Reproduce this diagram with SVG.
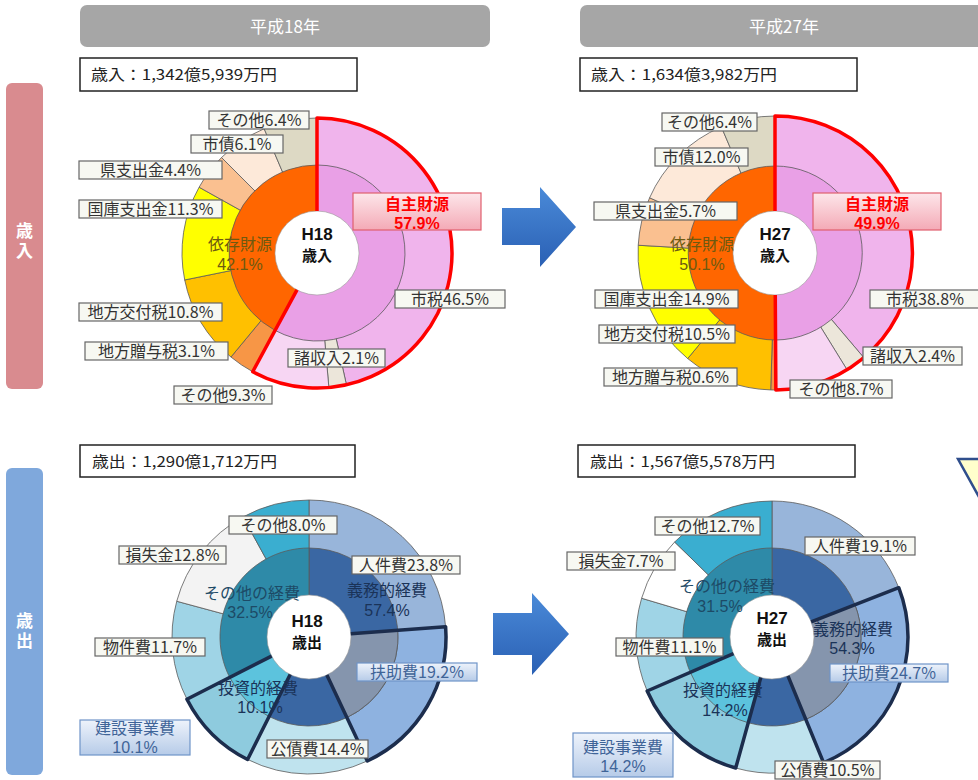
<svg xmlns="http://www.w3.org/2000/svg" width="978" height="780" viewBox="0 0 978 780">
<defs>
<style>
.f{font-family:"Noto Sans CJK JP","Noto Sans",sans-serif}
.num{font-family:"Liberation Sans",Arial,sans-serif}
.lb rect{fill:#f7f8f2;stroke:#666;stroke-width:1.2}
.lb text{font-family:"Noto Sans CJK JP","Noto Sans",sans-serif;font-size:16px;fill:#333;text-anchor:middle}
.bl rect{fill:url(#gBlue);stroke:#6f94c8;stroke-width:1.2}
.bl text{font-family:"Noto Sans CJK JP","Noto Sans",sans-serif;font-size:16px;fill:#3f6498;text-anchor:middle}
.sec path{stroke:#5a5a5a;stroke-width:0.8}
.ctr{font-family:"Noto Sans CJK JP","Noto Sans",sans-serif;font-size:15px;font-weight:bold;fill:#111;text-anchor:middle}
.ctr .num{font-size:17px}
.in{font-family:"Noto Sans CJK JP","Noto Sans",sans-serif;font-size:16px;text-anchor:middle}
.hd rect{fill:#a6a6a6}
.hd text{font-family:"Noto Sans CJK JP","Noto Sans",sans-serif;font-size:17px;fill:#fff;text-anchor:middle}
.sm rect{fill:#fff;stroke:#222;stroke-width:1.5}
.sm text{font-family:"Noto Sans CJK JP","Noto Sans",sans-serif;font-size:15px;fill:#222}
.sec .red{fill:none;stroke:#ff0000;stroke-width:3.5;stroke-linejoin:round}
.sec .nv{fill:none;stroke:#1c2d4d;stroke-width:3.5;stroke-linejoin:round}
.wc{fill:#fff;stroke:#999;stroke-width:0.6}
.vt{font-family:"Noto Sans CJK JP","Noto Sans",sans-serif;font-size:17px;font-weight:bold;fill:#fff;writing-mode:vertical-rl;text-anchor:middle;letter-spacing:3px}
</style>
<linearGradient id="gBlue" x1="0" y1="0" x2="0" y2="1"><stop offset="0" stop-color="#eef3fb"/><stop offset="1" stop-color="#b6cbe8"/></linearGradient>
<linearGradient id="gPink" x1="0" y1="0" x2="0" y2="1"><stop offset="0" stop-color="#fde6ea"/><stop offset="1" stop-color="#f4aab6"/></linearGradient>
<linearGradient id="gArr" x1="0" y1="0" x2="0" y2="1"><stop offset="0" stop-color="#4a8ad8"/><stop offset="1" stop-color="#2a60b4"/></linearGradient>
</defs>
<rect width="978" height="780" fill="#fff"/>

<g id="side-revenue"><rect x="6" y="83" width="37" height="306" rx="6" fill="#d98b8f"/><text class="vt" x="24.5" y="242">歳入</text></g>
<g id="side-expenditure"><rect x="6" y="468" width="37" height="307" rx="6" fill="#7fa8dc"/><text class="vt" x="24.5" y="632">歳出</text></g>

<g id="header-h18" class="hd"><rect x="80" y="5" width="410" height="42" rx="7"/><text x="285" y="33">平成18年</text></g>
<g id="header-h27" class="hd"><rect x="580" y="5" width="410" height="42" rx="7"/><text x="784" y="33">平成27年</text></g>

<g id="total-rev-h18" class="sm"><rect x="80" y="58" width="277" height="33"/><text x="91" y="80" textLength="186" lengthAdjust="spacingAndGlyphs">歳入：1,342億5,939万円</text></g>
<g id="total-rev-h27" class="sm"><rect x="580" y="58" width="277" height="33"/><text x="591" y="80" textLength="186" lengthAdjust="spacingAndGlyphs">歳入：1,634億3,982万円</text></g>
<g id="total-exp-h18" class="sm"><rect x="80" y="445" width="275" height="32"/><text x="92" y="467" textLength="185" lengthAdjust="spacingAndGlyphs">歳出：1,290億1,712万円</text></g>
<g id="total-exp-h27" class="sm"><rect x="578" y="445" width="277" height="32"/><text x="590" y="467" textLength="185" lengthAdjust="spacingAndGlyphs">歳出：1,567億5,578万円</text></g>

<!-- H18 revenue chart -->
<g id="chart-rev-h18" class="sec">
<path d="M317,253 L317,118 A135,135 0 0 1 346.44,384.75 Z" fill="#f0b4ec"/>
<path d="M317,253 L346.44,384.75 A135,135 0 0 1 328.86,387.48 Z" fill="#ece6da"/>
<path d="M317,253 L328.86,387.48 A135,135 0 0 1 252.70,371.71 Z" fill="#f7d6f3"/>
<path d="M317,253 L252.70,371.71 A135,135 0 0 1 230.95,357.02 Z" fill="#f79646"/>
<path d="M317,253 L230.95,357.02 A135,135 0 0 1 184.71,279.96 Z" fill="#ffc000"/>
<path d="M317,253 L184.71,279.96 A135,135 0 0 1 199.10,187.23 Z" fill="#ffff00"/>
<path d="M317,253 L199.10,187.23 A135,135 0 0 1 221.54,157.54 Z" fill="#fac090"/>
<path d="M317,253 L221.54,157.54 A135,135 0 0 1 264.17,128.76 Z" fill="#fde9d9"/>
<path d="M317,253 L264.17,128.76 A135,135 0 0 1 317,118 Z" fill="#ddd9c4"/>
<path d="M317,253 L317,165 A88,88 0 1 1 275.09,330.38 Z" fill="#e9a0e6"/>
<path d="M317,253 L275.09,330.38 A88,88 0 0 1 317,165 Z" fill="#ff6600"/>
<circle class="wc" cx="317" cy="253" r="42"/>
<path class="red" d="M317,211 L317,118 A135,135 0 1 1 252.70,371.71 L297.0,289.93"/>
<text class="in" x="240" y="250" fill="#6e5a10">依存財源<tspan class="num" x="240" dy="19.5">42.1%</tspan></text>
<text class="ctr" x="317" y="239.5"><tspan class="num">H18</tspan><tspan x="317" dy="21">歳入</tspan></text>
</g>

<!-- H27 revenue chart -->
<g id="chart-rev-h27" class="sec">
<path d="M775,253 L775,116 A137,137 0 0 1 863.64,357.46 Z" fill="#f0b4ec"/>
<path d="M775,253 L863.64,357.46 A137,137 0 0 1 846.94,369.60 Z" fill="#ece6da"/>
<path d="M775,253 L846.94,369.60 A137,137 0 0 1 775.86,390 Z" fill="#f7d6f3"/>
<path d="M775,253 L775.86,390 A137,137 0 0 1 770.70,389.93 Z" fill="#f79646"/>
<path d="M775,253 L770.70,389.93 A137,137 0 0 1 687.68,358.56 Z" fill="#ffc000"/>
<path d="M775,253 L687.68,358.56 A137,137 0 0 1 638.22,245.26 Z" fill="#ffff00"/>
<path d="M775,253 L638.22,245.26 A137,137 0 0 1 649.60,197.80 Z" fill="#fac090"/>
<path d="M775,253 L649.60,197.80 A137,137 0 0 1 721.39,126.92 Z" fill="#fde9d9"/>
<path d="M775,253 L721.39,126.92 A137,137 0 0 1 775,116 Z" fill="#ddd9c4"/>
<path d="M775,253 L775,166 A87,87 0 0 1 775.55,340 Z" fill="#e9a0e6"/>
<path d="M775,253 L775.55,340 A87,87 0 1 1 775,166 Z" fill="#ff6600"/>
<circle class="wc" cx="775" cy="253" r="42"/>
<path class="red" d="M775,211 L775,116 A137,137 0 0 1 775.86,390 L775.26,295"/>
<text class="in" x="702" y="250" fill="#6e5a10">依存財源<tspan class="num" x="702" dy="19.5">50.1%</tspan></text>
<text class="ctr" x="775" y="239.5"><tspan class="num">H27</tspan><tspan x="775" dy="21">歳入</tspan></text>
</g>

<!-- H18 expenditure chart -->
<g id="chart-exp-h18" class="sec">
<path d="M309,637 L309,500 A137,137 0 0 1 445.62,626.68 Z" fill="#98b5da"/>
<path d="M309,637 L445.62,626.68 A137,137 0 0 1 367.33,760.96 Z" fill="#8eb2e0"/>
<path d="M309,637 L367.33,760.96 A137,137 0 0 1 247.57,759.45 Z" fill="#bfe3ee"/>
<path d="M309,637 L247.57,759.45 A137,137 0 0 1 186.93,699.20 Z" fill="#8ecbde"/>
<path d="M309,637 L186.93,699.20 A137,137 0 0 1 176.74,601.26 Z" fill="#9fd4e6"/>
<path d="M309,637 L176.74,601.26 A137,137 0 0 1 242.99,516.95 Z" fill="#f3f3f3"/>
<path d="M309,637 L242.99,516.95 A137,137 0 0 1 309,500 Z" fill="#3aaed0"/>
<path d="M309,637 L309,548 A89,89 0 1 1 269.09,716.55 Z" fill="#3a67a3"/>
<path d="M309,637 L269.09,716.55 A89,89 0 0 1 229.70,677.41 Z" fill="#5cc3dd"/>
<path d="M309,637 L229.70,677.41 A89,89 0 0 1 309,548 Z" fill="#2e8aa8"/>
<path d="M309,637 L397.75,630.30 A89,89 0 0 1 346.90,717.53 Z" fill="#8595ad"/>
<circle class="wc" cx="309" cy="637" r="42"/>
<path class="nv" d="M350.88,633.84 L445.62,626.68 A137,137 0 0 1 367.33,760.96 L326.88,675.0"/>
<path class="nv" d="M290.17,674.54 L247.57,759.45 A137,137 0 0 1 186.93,699.20 L271.58,656.07"/>
<text class="in" x="252" y="598.5" fill="#1d4a66">その他の経費<tspan class="num" x="250" dy="19.5">32.5%</tspan></text>
<text class="in" x="387" y="596" fill="#1a3358">義務的経費<tspan class="num" x="387" dy="19.5">57.4%</tspan></text>
<text class="in" x="258" y="693.5" fill="#1a3358">投資的経費<tspan class="num" x="260" dy="19.5">10.1%</tspan></text>
<text class="ctr" x="307" y="626.5"><tspan class="num">H18</tspan><tspan x="307" dy="21">歳出</tspan></text>
</g>

<!-- H27 expenditure chart -->
<g id="chart-exp-h27" class="sec">
<path d="M772,637 L772,501 A136,136 0 0 1 898.77,587.74 Z" fill="#98b5da"/>
<path d="M772,637 L898.77,587.74 A136,136 0 0 1 823.65,762.81 Z" fill="#8eb2e0"/>
<path d="M772,637 L823.65,762.81 A136,136 0 0 1 735.70,768.06 Z" fill="#bfe3ee"/>
<path d="M772,637 L735.70,768.06 A136,136 0 0 1 647.18,691.01 Z" fill="#8ecbde"/>
<path d="M772,637 L647.18,691.01 A136,136 0 0 1 641.64,598.24 Z" fill="#9fd4e6"/>
<path d="M772,637 L641.64,598.24 A136,136 0 0 1 674.64,542.04 Z" fill="#ffffff"/>
<path d="M772,637 L674.64,542.04 A136,136 0 0 1 772,501 Z" fill="#3aaed0"/>
<path d="M772,637 L772,548 A89,89 0 1 1 748.25,722.77 Z" fill="#3a67a3"/>
<path d="M772,637 L748.25,722.77 A89,89 0 0 1 690.32,672.34 Z" fill="#5cc3dd"/>
<path d="M772,637 L690.32,672.34 A89,89 0 0 1 772,548 Z" fill="#2e8aa8"/>
<path d="M772,637 L854.96,604.76 A89,89 0 0 1 805.80,719.33 Z" fill="#8595ad"/>
<circle class="wc" cx="772" cy="637" r="42"/>
<path class="nv" d="M811.15,621.79 L898.77,587.74 A136,136 0 0 1 823.65,762.81 L787.95,675.85"/>
<path class="nv" d="M760.79,677.48 L735.70,768.06 A136,136 0 0 1 647.18,691.01 L733.45,653.68"/>
<text class="in" x="727" y="592" fill="#1d4a66">その他の経費<tspan class="num" x="720" dy="19.5">31.5%</tspan></text>
<text class="in" x="853" y="634.5" fill="#1a3358">義務的経費<tspan class="num" x="852" dy="19.5">54.3%</tspan></text>
<text class="in" x="723" y="696" fill="#1a3358">投資的経費<tspan class="num" x="725" dy="19.5">14.2%</tspan></text>
<text class="ctr" x="772" y="624"><tspan class="num">H27</tspan><tspan x="772" dy="21">歳出</tspan></text>
</g>

<!-- labels H18 revenue -->
<g id="lbl-r18-sonota64" class="lb"><rect x="209" y="111" width="100" height="18"/><text x="259" y="126">その他6.4%</text></g>
<g id="lbl-r18-shisai" class="lb"><rect x="191" y="135" width="92" height="18"/><text x="237" y="150">市債6.1%</text></g>
<g id="lbl-r18-ken" class="lb"><rect x="79" y="161" width="143" height="18"/><text x="150.5" y="176">県支出金4.4%</text></g>
<g id="lbl-r18-kokko" class="lb"><rect x="79" y="200" width="143" height="18"/><text x="150.5" y="215">国庫支出金11.3%</text></g>
<g id="lbl-r18-koufu" class="lb"><rect x="79" y="303" width="143" height="18"/><text x="150.5" y="318">地方交付税10.8%</text></g>
<g id="lbl-r18-jouyo" class="lb"><rect x="85" y="342" width="143" height="18"/><text x="156.5" y="357">地方贈与税3.1%</text></g>
<g id="lbl-r18-sonota93" class="lb"><rect x="174" y="386" width="98" height="18"/><text x="223" y="401">その他9.3%</text></g>
<g id="lbl-r18-shoshu" class="lb"><rect x="288" y="349" width="97" height="18"/><text x="336.5" y="364">諸収入2.1%</text></g>
<g id="lbl-r18-shizei" class="lb"><rect x="395" y="290" width="110" height="18"/><text x="450" y="305">市税46.5%</text></g>
<g id="lbl-r18-jishu"><rect x="353" y="193" width="128" height="37" fill="url(#gPink)" stroke="#e0606e" stroke-width="1.2"/><text class="in" x="417" y="209.5" fill="#ff0000" font-weight="bold">自主財源<tspan class="num" x="417" dy="19.5">57.9%</tspan></text></g>

<!-- labels H27 revenue -->
<g id="lbl-r27-sonota64" class="lb"><rect x="662" y="113" width="95" height="18"/><text x="709.5" y="128">その他6.4%</text></g>
<g id="lbl-r27-shisai" class="lb"><rect x="655" y="148" width="93" height="18"/><text x="701.5" y="163">市債12.0%</text></g>
<g id="lbl-r27-ken" class="lb"><rect x="594" y="202" width="143" height="18"/><text x="665.5" y="217">県支出金5.7%</text></g>
<g id="lbl-r27-kokko" class="lb"><rect x="595" y="290" width="143" height="18"/><text x="666.5" y="305">国庫支出金14.9%</text></g>
<g id="lbl-r27-koufu" class="lb"><rect x="599" y="325" width="136" height="18"/><text x="667" y="340">地方交付税10.5%</text></g>
<g id="lbl-r27-jouyo" class="lb"><rect x="604" y="368" width="133" height="18"/><text x="670.5" y="383">地方贈与税0.6%</text></g>
<g id="lbl-r27-sonota87" class="lb"><rect x="790" y="380" width="102" height="18"/><text x="841" y="395">その他8.7%</text></g>
<g id="lbl-r27-shoshu" class="lb"><rect x="863" y="347" width="99" height="18"/><text x="912.5" y="362">諸収入2.4%</text></g>
<g id="lbl-r27-shizei" class="lb"><rect x="870" y="290" width="110" height="18"/><text x="925" y="305">市税38.8%</text></g>
<g id="lbl-r27-jishu"><rect x="813" y="193" width="128" height="37" fill="url(#gPink)" stroke="#e0606e" stroke-width="1.2"/><text class="in" x="877" y="209.5" fill="#ff0000" font-weight="bold">自主財源<tspan class="num" x="877" dy="19.5">49.9%</tspan></text></g>

<!-- labels H18 expenditure -->
<g id="lbl-e18-sonota" class="lb"><rect x="229" y="516" width="108" height="18"/><text x="283" y="531">その他8.0%</text></g>
<g id="lbl-e18-sonshitsu" class="lb"><rect x="119" y="546" width="107" height="18"/><text x="172.5" y="561">損失金12.8%</text></g>
<g id="lbl-e18-jinken" class="lb"><rect x="352" y="556" width="108" height="18"/><text x="406" y="571">人件費23.8%</text></g>
<g id="lbl-e18-bukken" class="lb"><rect x="95" y="638" width="110" height="18"/><text x="150" y="653">物件費11.7%</text></g>
<g id="lbl-e18-fujo" class="bl"><rect x="357" y="663" width="120" height="18"/><text x="417" y="678">扶助費19.2%</text></g>
<g id="lbl-e18-kensetsu" class="bl"><rect x="80" y="720" width="110" height="35"/><text x="135" y="733.5">建設事業費<tspan class="num" x="135" dy="19.5">10.1%</tspan></text></g>
<g id="lbl-e18-kousai" class="lb"><rect x="267" y="740" width="101" height="18"/><text x="317.5" y="755">公債費14.4%</text></g>

<!-- labels H27 expenditure -->
<g id="lbl-e27-sonota" class="lb"><rect x="655" y="517" width="105" height="18"/><text x="707.5" y="532">その他12.7%</text></g>
<g id="lbl-e27-sonshitsu" class="lb"><rect x="567" y="552" width="108" height="18"/><text x="621" y="567">損失金7.7%</text></g>
<g id="lbl-e27-jinken" class="lb"><rect x="805" y="537" width="110" height="18"/><text x="860" y="552">人件費19.1%</text></g>
<g id="lbl-e27-bukken" class="lb"><rect x="616" y="638" width="107" height="18"/><text x="669.5" y="653">物件費11.1%</text></g>
<g id="lbl-e27-fujo" class="bl"><rect x="830" y="664" width="118" height="18"/><text x="889" y="679">扶助費24.7%</text></g>
<g id="lbl-e27-kensetsu" class="bl"><rect x="573" y="733" width="100" height="44"/><text x="623" y="752.5">建設事業費<tspan class="num" x="623" dy="19.5">14.2%</tspan></text></g>
<g id="lbl-e27-kousai" class="lb"><rect x="775" y="761" width="105" height="18"/><text x="827.5" y="776">公債費10.5%</text></g>

<g id="connectors">
<polygon points="502,208 540,208 540,187 576,227 540,267 540,245 502,245" fill="url(#gArr)"/>
<polygon points="493,613 532,613 532,593 569,634 532,675 532,655 493,655" fill="url(#gArr)"/>
</g>
<g id="callout"><polygon points="958,459 1012,459 984,506" fill="#ffffcc" stroke="#2f4e8c" stroke-width="2.5"/></g>
</svg>
